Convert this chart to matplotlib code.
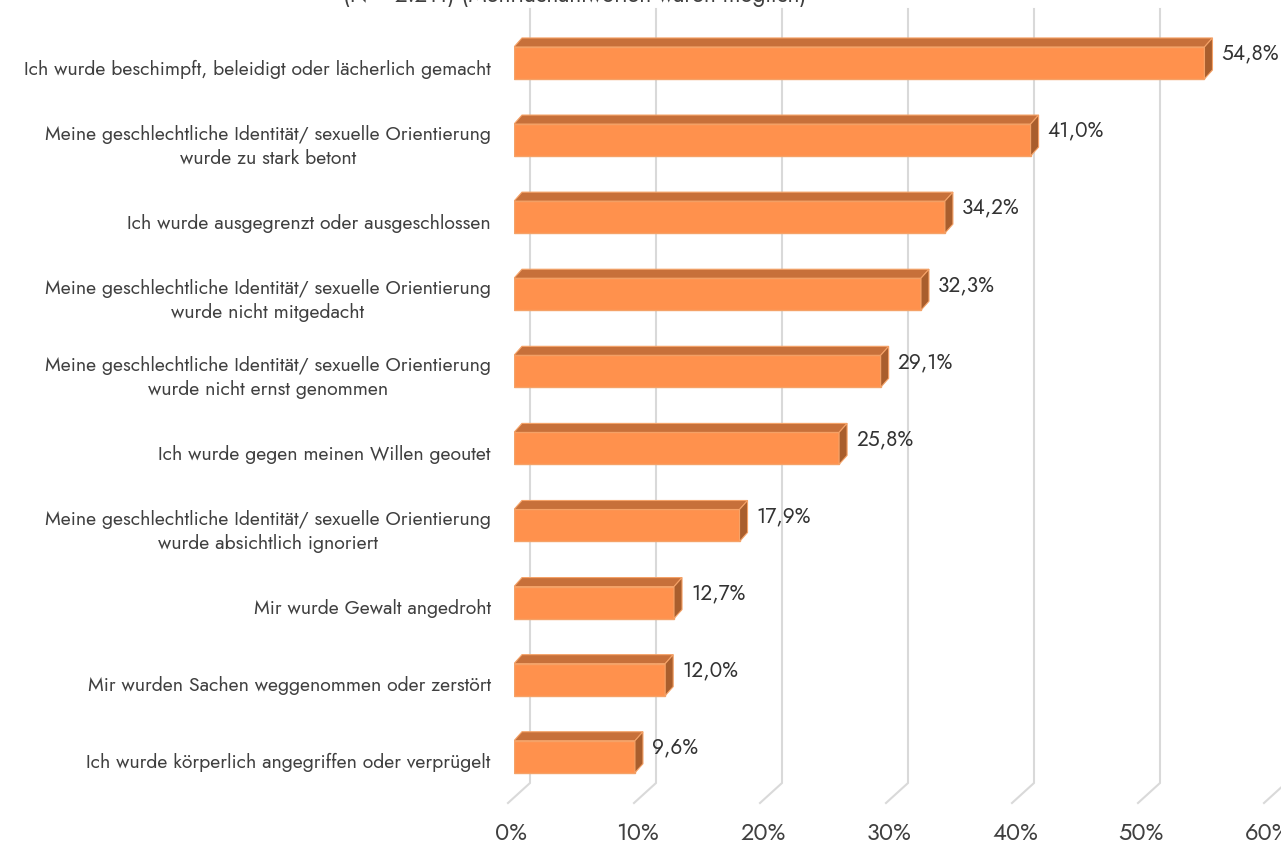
import numpy as np
import matplotlib
matplotlib.use("Agg")
import matplotlib.pyplot as plt
from matplotlib.patches import Polygon

plt.rcParams['font.family'] = ['Jost', 'Didact Gothic', 'DejaVu Sans']
plt.rcParams['font.weight'] = 300

# data (top to bottom)
categories = [
    "Ich wurde beschimpft, beleidigt oder lächerlich gemacht",
    "Meine geschlechtliche Identität/ sexuelle Orientierung\nwurde zu stark betont",
    "Ich wurde ausgegrenzt oder ausgeschlossen",
    "Meine geschlechtliche Identität/ sexuelle Orientierung\nwurde nicht mitgedacht",
    "Meine geschlechtliche Identität/ sexuelle Orientierung\nwurde nicht ernst genommen",
    "Ich wurde gegen meinen Willen geoutet",
    "Meine geschlechtliche Identität/ sexuelle Orientierung\nwurde absichtlich ignoriert",
    "Mir wurde Gewalt angedroht",
    "Mir wurden Sachen weggenommen oder zerstört",
    "Ich wurde körperlich angegriffen oder verprügelt",
]
values = [54.8, 41.0, 34.2, 32.3, 29.1, 25.8, 17.9, 12.7, 12.0, 9.6]
value_labels = ["54,8%", "41,0%", "34,2%", "32,3%", "29,1%", "25,8%", "17,9%", "12,7%", "12,0%", "9,6%"]
ticks = [0, 10, 20, 30, 40, 50, 60]
tick_labels = ["0%", "10%", "20%", "30%", "40%", "50%", "60%"]
title = "(N = 2.211) (Mehrfachantworten waren möglich)"

# colours
front = '#FF914D'
top = '#C7703A'
side = '#A95E2D'
edge = '#F5A267'
grid = '#D9D9D9'
txt = '#404040'

fig = plt.figure(figsize=(12.81, 8.44), dpi=100)
ax = fig.add_axes([514 / 1281, 41 / 844, 756 / 1281, 794 / 844])
ax.set_xlim(0, 60)
ax.set_ylim(9.6, -0.7)
ax.axis('off')

# depth offsets (data units)
px_x = 60 / 756
px_y = 10.3 / 794
bdx, bdy = 8 * px_x, -9 * px_y          # bar depth
wall = 16 * px_x                         # back wall offset
floor_front_x = -6 * px_x
floor_back_y = 9.6 - 20 * px_y

# gridlines on back wall + floor
for t, tl in zip(ticks, tick_labels):
    ax.plot([t + wall, t + wall, t + floor_front_x], [-0.7, floor_back_y, 9.6],
            color=grid, lw=1.5, zorder=1, clip_on=False, solid_joinstyle='miter')
    ax.text(t - 0.2, 9.6 + 31 * px_y, tl, ha='center', va='center',
            fontsize=17, color=txt, clip_on=False)

# bars: front face + top and side faces for the 3d look
h = 0.415
y = np.arange(len(values))
ax.barh(y, values, height=h, left=0, color=front, edgecolor=edge, linewidth=1, zorder=3)
for i, v in zip(y, values):
    y0 = i - h / 2
    y1 = i + h / 2
    ax.add_patch(Polygon([(0, y0), (v, y0), (v + bdx, y0 + bdy), (bdx, y0 + bdy)],
                         closed=True, facecolor=top, edgecolor=edge, lw=0.8, zorder=3))
    ax.add_patch(Polygon([(v, y0), (v + bdx, y0 + bdy), (v + bdx, y1 + bdy), (v, y1)],
                         closed=True, facecolor=side, edgecolor=edge, lw=0.8, zorder=3))

for i, (v, lab) in enumerate(zip(values, value_labels)):
    ax.text(v + 1.35, i - 0.12, lab, ha='left', va='center', fontsize=15,
            color='#333333', fontweight=400)

for i, c in enumerate(categories):
    ax.text(-1.85, i + 0.08, c, ha='right', va='center', multialignment='center',
            fontsize=14, color=txt, linespacing=1.3, clip_on=False)

# title, mostly cut off at the top like in the original
ax.text(4.84, -0.7 - 7 * px_y, title, ha='center', va='baseline', fontsize=16.3,
        color=txt, clip_on=False)

fig.savefig('out.png', dpi=100)
